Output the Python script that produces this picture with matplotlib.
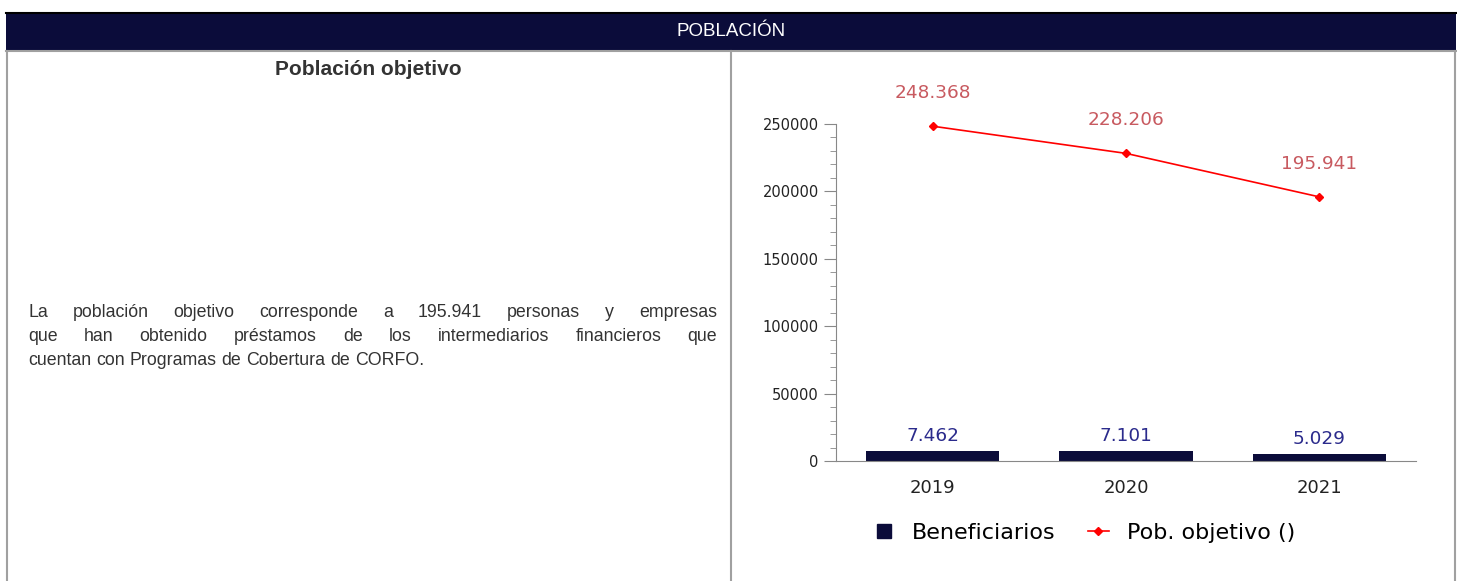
import matplotlib.pyplot as plt
from matplotlib.lines import Line2D
from matplotlib.patches import Rectangle

years = ["2019", "2020", "2021"]
beneficiarios = [7462, 7101, 5029]
pob_objetivo = [248368, 228206, 195941]

header = "POBLACIÓN"
left_title = "Población objetivo"
paragraph = [
    "La población objetivo corresponde a 195.941 personas y empresas",
    "que han obtenido préstamos de los intermediarios financieros que",
    "cuentan con Programas de Cobertura de CORFO.",
]

NAVY = "#0b0c3a"
BORDER = "#a0a0a0"
W, H = 1457, 581
TXT_FONT = "Liberation Sans"
PARA_SIZE = 12.8

fig = plt.figure(figsize=(W / 100, H / 100), dpi=100)


def fx(px):
    return px / W


def fy(py):
    return 1 - py / H


def fline(x0, y0, x1, y1, color=BORDER, lw=1.5):
    fig.add_artist(Line2D([fx(x0), fx(x1)], [fy(y0), fy(y1)], color=color,
                          lw=lw, transform=fig.transFigure))


# header bar and table frame
fig.add_artist(Rectangle((fx(6), fy(50)), fx(1456) - fx(6), fy(12) - fy(50),
                         facecolor=NAVY, edgecolor="none", transform=fig.transFigure))
fline(6, 12.5, 1456, 12.5, color="black", lw=1.5)
fline(6, 51, 1456, 51)
fline(7, 51, 7, 581)
fline(731, 51, 731, 581)
fline(1455, 51, 1455, 581)
fig.text(fx(731), fy(31), header, color="white", ha="center", va="center",
         fontsize=13.5, family=TXT_FONT)

# left cell
fig.text(fx(368), fy(75), left_title, ha="center", va="baseline", fontsize=15,
         fontweight="bold", family=TXT_FONT, color="#333333")

# justified paragraph, word by word
renderer = fig.canvas.get_renderer()
x_left, x_right = 28, 717
baselines = [317, 341, 365]
for i, line in enumerate(paragraph):
    words = line.split(" ")
    texts = [fig.text(0, fy(baselines[i]), w, ha="left", va="baseline", fontsize=PARA_SIZE,
                      family=TXT_FONT, color="#333333") for w in words]
    widths = [t.get_window_extent(renderer).width for t in texts]
    if i == len(paragraph) - 1:
        gap = 0.278 * PARA_SIZE * 100 / 72
    else:
        gap = (x_right - x_left - sum(widths)) / (len(words) - 1)
    x = x_left
    for t, w in zip(texts, widths):
        t.set_x(fx(x))
        x += w + gap

# chart
ax = fig.add_axes([fx(836), fy(461), fx(1416) - fx(836), fy(124) - fy(461)])
xs = range(len(years))
ax.bar(xs, beneficiarios, width=0.69, color=NAVY)
ax.plot(xs, pob_objetivo, color="red", lw=1.2, marker="D", markersize=4.5, clip_on=False)

for x, v in zip(xs, beneficiarios):
    ax.annotate(f"{v:,}".replace(",", "."), (x, v), xytext=(0, 15), textcoords="offset pixels",
                ha="center", va="center", color="#2b2b8c", fontsize=13.3)
for x, v in zip(xs, pob_objetivo):
    ax.annotate(f"{v:,}".replace(",", "."), (x, v), xytext=(0, 33), textcoords="offset pixels",
                ha="center", va="center", color="#c85a60", fontsize=13.3,
                annotation_clip=False)

ax.set_xlim(-0.5, 2.5)
ax.set_ylim(0, 250000)
ax.set_yticks([0, 50000, 100000, 150000, 200000, 250000])
ax.set_yticks(range(0, 250001, 10000), minor=True)
ax.set_xticks(list(xs))
ax.set_xticklabels(years)
for s in ["top", "right"]:
    ax.spines[s].set_visible(False)
for s in ["left", "bottom"]:
    ax.spines[s].set_color("#888888")
ax.tick_params(axis="y", which="major", length=8.5, color="#888888", labelsize=10.5,
               labelcolor="#222222", pad=4)
ax.tick_params(axis="y", which="minor", length=4.5, color="#888888")
ax.tick_params(axis="x", length=0, labelsize=13, labelcolor="#222222", pad=13)

handles = [
    Line2D([], [], marker="s", ls="none", color=NAVY, markersize=10.5),
    Line2D([], [], color="red", lw=1.2, marker="D", markersize=4.5),
]
fig.legend(handles, ["Beneficiarios", "Pob. objetivo ()"], loc="center",
           bbox_to_anchor=(fx(1084), fy(533)), ncol=2, frameon=False, fontsize=16,
           handlelength=0.95, columnspacing=1.45, handletextpad=0.8, borderpad=0)

fig.savefig("out.png", dpi=100)
